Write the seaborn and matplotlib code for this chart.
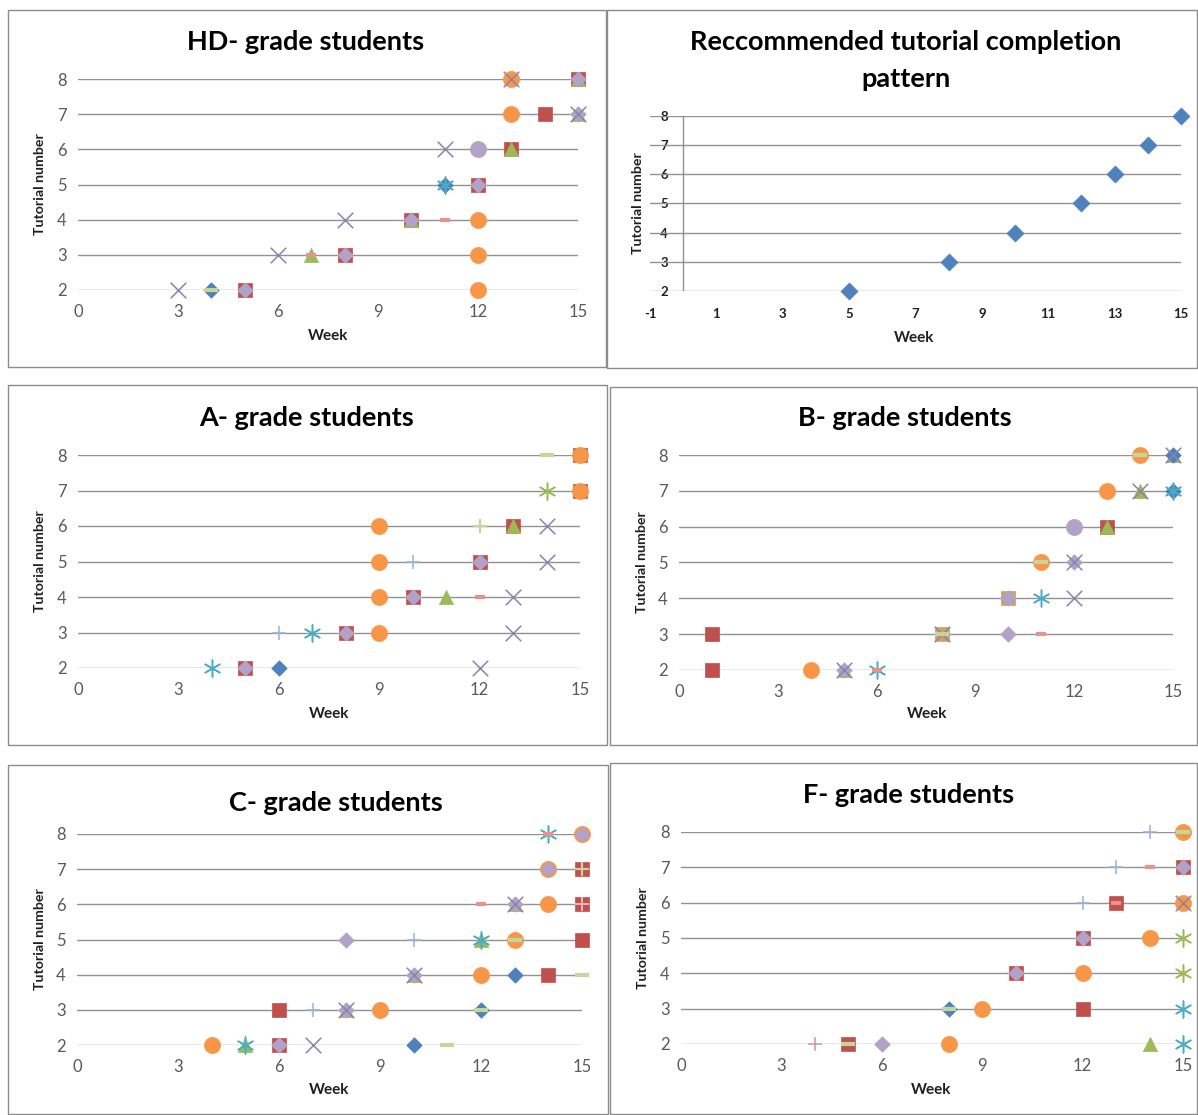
import matplotlib
matplotlib.use("Agg")
import matplotlib.pyplot as plt
import seaborn as sns
import pandas as pd
from matplotlib.patches import Rectangle

sns.set_theme(style="white")
plt.rcParams['font.family'] = ['Lato', 'DejaVu Sans']
plt.rcParams['axes.unicode_minus'] = False

# ---------------------------------------------------------------------------------------------------------
# data: one point per marker seen on the picture (week, tutorial number, marker style)
hd_week = [3, 4, 4, 5, 5, 12, 6, 7, 7, 8, 8, 12, 8, 10, 10, 10, 11, 12,
           11, 11, 12, 12, 11, 12, 13, 13, 13, 14, 15, 15, 15, 13, 13, 15, 15, 15]
hd_tut = [2, 2, 2, 2, 2, 2, 3, 3, 3, 3, 3, 3, 4, 4, 4, 4, 4, 4,
          5, 5, 5, 5, 6, 6, 6, 6, 7, 7, 7, 7, 7, 8, 8, 8, 8, 8]
hd_mark = ['x', 'dia', 'ldash', 'sq', 'ldia', 'circ',
           'x', 'tri', 'dash', 'sq', 'ldia', 'circ',
           'x', 'sq', 'tri', 'ldia', 'dash', 'circ',
           'dia', 'star', 'sq', 'ldia',
           'x', 'lcirc', 'sq', 'tri',
           'circ', 'sq', 'tri', 'x', 'ldia',
           'circ', 'x', 'sq', 'tri', 'ldia']

rec_week = [5, 8, 10, 12, 13, 14, 15]
rec_tut = [2, 3, 4, 5, 6, 7, 8]
rec_mark = ['dia'] * 7

a_week = [4, 5, 5, 6, 12, 6, 7, 8, 8, 9, 13, 9, 10, 10, 11, 12, 13,
          9, 10, 12, 12, 14, 9, 12, 13, 13, 14, 14, 15, 15, 14, 15, 15]
a_tut = [2, 2, 2, 2, 2, 3, 3, 3, 3, 3, 3, 4, 4, 4, 4, 4, 4,
         5, 5, 5, 5, 5, 6, 6, 6, 6, 6, 7, 7, 7, 8, 8, 8]
a_mark = ['star', 'sq', 'ldia', 'dia', 'x',
          'plus', 'star', 'sq', 'ldia', 'circ', 'x',
          'circ', 'sq', 'ldia', 'tri', 'dash', 'x',
          'circ', 'plus', 'sq', 'ldia', 'x',
          'circ', 'gplus', 'sq', 'tri', 'x',
          'gstar', 'sq', 'circ',
          'ldash', 'sq', 'circ']

b_week = [1, 4, 5, 5, 5, 6, 6, 1, 8, 8, 8, 10, 11, 10, 10, 11, 12,
          11, 11, 12, 12, 12, 13, 13, 13, 14, 14, 15, 15, 14, 14, 15, 15, 15]
b_tut = [2, 2, 2, 2, 2, 2, 2, 3, 3, 3, 3, 3, 3, 4, 4, 4, 4,
         5, 5, 5, 5, 6, 6, 6, 7, 7, 7, 7, 7, 8, 8, 8, 8, 8]
b_mark = ['sq', 'circ', 'tri', 'x', 'ldia', 'star', 'dash',
          'sq', 'osq', 'x', 'ldash', 'ldia', 'dash',
          'osq', 'ldia', 'star', 'x',
          'circ', 'ldash', 'x', 'ldia',
          'lcirc', 'sq', 'tri',
          'circ', 'tri', 'x', 'dia', 'star',
          'circ', 'ldash', 'tri', 'x', 'dia']

c_week = [4, 5, 5, 6, 6, 7, 10, 11, 6, 7, 8, 8, 8, 9, 12, 12,
          10, 10, 10, 12, 13, 14, 15, 8, 10, 12, 12, 13, 13, 15,
          12, 13, 13, 13, 14, 15, 15, 14, 14, 15, 15, 14, 14, 15, 15]
c_tut = [2, 2, 2, 2, 2, 2, 2, 2, 3, 3, 3, 3, 3, 3, 3, 3,
         4, 4, 4, 4, 4, 4, 4, 5, 5, 5, 5, 5, 5, 5,
         6, 6, 6, 6, 6, 6, 6, 7, 7, 7, 7, 8, 8, 8, 8]
c_mark = ['circ', 'tri', 'star', 'sq', 'ldia', 'x', 'dia', 'ldash',
          'sq', 'plus', 'tri', 'x', 'ldia', 'circ', 'dia', 'ldash',
          'tri', 'x', 'ldia', 'circ', 'dia', 'sq', 'ldash',
          'ldia', 'plus', 'tri', 'star', 'circ', 'ldash', 'sq',
          'dash', 'tri', 'x', 'ldia', 'circ', 'sq', 'wplus',
          'circ', 'ldia', 'sq', 'gplus',
          'star', 'dash', 'circ', 'ldia']

f_week = [4, 5, 5, 6, 8, 14, 15, 8, 8, 9, 12, 15, 10, 10, 12, 15,
          12, 12, 14, 15, 12, 13, 13, 15, 15, 13, 14, 15, 15, 14, 15, 15]
f_tut = [2, 2, 2, 2, 2, 2, 2, 3, 3, 3, 3, 3, 4, 4, 4, 4,
         5, 5, 5, 5, 6, 6, 6, 6, 6, 7, 7, 7, 7, 8, 8, 8]
f_mark = ['pplus', 'sq', 'ldash', 'ldia', 'circ', 'tri', 'star',
          'dia', 'ldash', 'circ', 'sq', 'star',
          'sq', 'ldia', 'circ', 'gstar',
          'sq', 'ldia', 'circ', 'gstar',
          'plus', 'sq', 'dash', 'circ', 'x',
          'plus', 'dash', 'sq', 'ldia',
          'plus', 'circ', 'ldash']

# Excel-like marker styles, drawn in this order (later ones sit on top)
asterisk = (6, 2, 0)
styles = {
    'sq':    ('s', '#C0504D', 115, 0),
    'osq':   ('s', '#CFA064', 115, 0),
    'circ':  ('o', '#F79646', 135, 0),
    'lcirc': ('o', '#B3A2C7', 135, 0),
    'tri':   ('^', '#9BBB59', 105, 0),
    'dia':   ('D', '#4F81BD', 62, 0),
    'ldia':  ('D', '#B3A2C7', 62, 0),
    'x':     ('x', '#8C82AE', 125, 1.1),
    'star':  (asterisk, '#4BACC6', 145, 1.1),
    'gstar': (asterisk, '#9BBB59', 145, 1.1),
    'plus':  ('+', '#95B3D7', 115, 1.1),
    'gplus': ('+', '#C3D69B', 115, 1.6),
    'pplus': ('+', '#D99694', 115, 1.1),
    'wplus': ('+', '#E6B9B8', 115, 1.4),
    'dash':  ('_', '#E6928F', 60, 3),
    'ldash': ('_', '#C3D69B', 115, 3),
}

W, H = 1198, 1115
fig = plt.figure(figsize=(W / 100, H / 100), dpi=100)
fig.patch.set_facecolor('white')


def frame(x0, y0, x1, y1):
    fig.patches.append(Rectangle((x0 / W, 1 - y1 / H), (x1 - x0) / W, (y1 - y0) / H,
                                 transform=fig.transFigure, fill=False,
                                 edgecolor='#8C8C8C', linewidth=1))


def draw_panel(box, week, tut, mark, xlim=(0, 15), xticks=range(0, 16, 3),
               rec=False, diasize=None):
    l, t, r, b = box
    ax = fig.add_axes([l / W, 1 - b / H, (r - l) / W, (b - t) / H])
    df = pd.DataFrame({'week': week, 'tut': tut, 'mark': mark})
    for y in range(2, 9):
        ax.plot(xlim, [y, y], color='#929292', lw=1, zorder=1)
    if rec:
        # vertical axis crosses at week 0
        ax.plot([0, 0], [2, 8], color='#929292', lw=1, zorder=1)
    for name, (m, c, s, lw) in styles.items():
        sub = df[df['mark'] == name]
        if sub.empty:
            continue
        if diasize is not None:
            s = diasize
        if lw == 0:
            sns.scatterplot(data=sub, x='week', y='tut', ax=ax, marker=m, color=c,
                            s=s, edgecolor=c, linewidth=0.5, clip_on=False, zorder=3,
                            legend=False)
        else:
            sns.scatterplot(data=sub, x='week', y='tut', ax=ax, marker=m, color=c,
                            s=s, linewidth=lw, clip_on=False, zorder=3, legend=False)
    ax.set_xlim(*xlim)
    ax.set_ylim(2, 8)
    ax.set_xticks(list(xticks))
    ax.set_yticks(range(2, 9))
    for sp in ax.spines.values():
        sp.set_visible(False)
    ax.set_xlabel('')
    ax.set_ylabel('')
    if rec:
        # labels sit just left of the week-0 axis, over the gridlines
        ax.tick_params(axis='y', length=0, pad=-13, labelsize=9.5, labelcolor='#202020')
        ax.tick_params(axis='x', length=0, pad=12, labelsize=9.5, labelcolor='#202020')
        for lab in ax.get_xticklabels() + ax.get_yticklabels():
            lab.set_fontweight('bold')
    else:
        ax.tick_params(axis='both', length=0, labelsize=12, labelcolor='#5A5A5A')
        ax.tick_params(axis='x', pad=10)
        ax.tick_params(axis='y', pad=8)
    return ax


panels = [
    ((78, 79, 578, 290), ['HD- grade students'], [(306, 42)], hd_week, hd_tut, hd_mark,
     (328, 336), 40, False),
    ((650, 116, 1181, 291), ['Reccommended tutorial completion', 'pattern'],
     [(906, 42), (906, 79)], rec_week, rec_tut, rec_mark, (914, 338), 638, True),
    ((78, 455, 580, 668), ['A- grade students'], [(307, 418)], a_week, a_tut, a_mark,
     (329, 714), 40, False),
    ((679, 455, 1173, 670), ['B- grade students'], [(905, 418)], b_week, b_tut, b_mark,
     (927, 714), 642, False),
    ((77, 834, 582, 1045), ['C- grade students'], [(336, 803)], c_week, c_tut, c_mark,
     (329, 1090), 40, False),
    ((681, 832, 1183, 1044), ['F- grade students'], [(909, 795)], f_week, f_tut, f_mark,
     (931, 1090), 643, False),
]

frame(8, 10, 606, 367)
frame(607, 10, 1197, 368)
frame(8, 385, 607, 745)
frame(610, 387, 1197, 745)
frame(8, 765, 608, 1114)
frame(610, 763, 1197, 1114)

for box, titles, tpos, wk, tu, mk, wpos, ylx, rec in panels:
    if rec:
        ax = draw_panel(box, wk, tu, mk, xlim=(-1, 15), xticks=range(-1, 16, 2),
                        rec=True, diasize=75)
    else:
        ax = draw_panel(box, wk, tu, mk)
    cy = (box[1] + box[3]) / 2
    for line, (tx, ty) in zip(titles, tpos):
        fig.text(tx / W, 1 - ty / H, line, ha='center', va='center',
                 fontsize=19.5, fontweight='bold', color='black')
    fig.text(wpos[0] / W, 1 - wpos[1] / H, 'Week', ha='center', va='center',
             fontsize=11, fontweight='bold', color='#202020')
    fig.text(ylx / W, 1 - cy / H, 'Tutorial number', ha='center', va='center',
             rotation=90, fontsize=10.2, fontweight='bold', color='#202020')

fig.savefig('out.png', dpi=100, facecolor='white')
